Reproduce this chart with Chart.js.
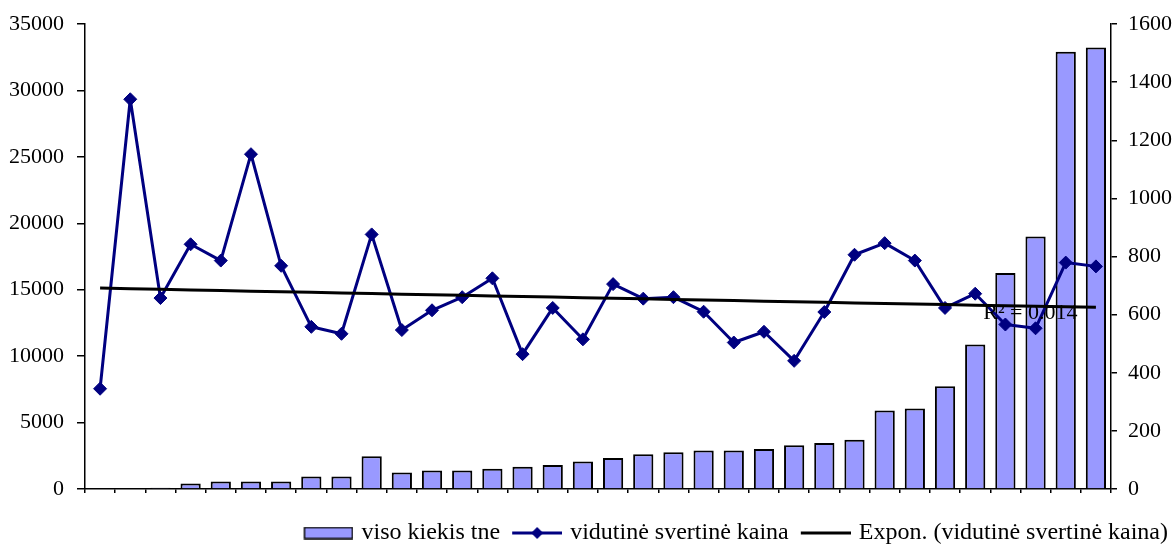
<!DOCTYPE html>
<html lang="lt">
<head>
  <meta charset="UTF-8">
  <title>viso kiekis tne / vidutinė svertinė kaina</title>
  <script src="https://cdn.jsdelivr.net/npm/chart.js"></script>
  <style>
    html, body { margin: 0; padding: 0; background: #fff; }
    #wrap { width: 1176px; height: 545px; position: relative; }
  </style>
</head>
<body>
  <div id="wrap"><canvas id="myChart"></canvas></div>

  <script>
    // 34 periods, no labels on the category axis
    const categories = Array.from({ length: 34 }, (_, i) => String(i + 1));
    const kiekis = [0, 0, 100, 420, 560, 560, 560, 950, 950, 2470,
                    1250, 1400, 1400, 1520, 1670, 1800, 2070, 2340, 2620, 2770,
                    2890, 2890, 3010, 3290, 3460, 3715, 5910, 6060, 7730, 10870,
                    16250, 19000, 32910, 33230];
    const kaina = [345, 1341, 657, 842, 786, 1152, 768, 558, 534, 876,
                   547, 615, 660, 725, 464, 623, 515, 705, 655, 660,
                   610, 504, 541, 441, 609, 806, 846, 786, 623, 672,
                   566, 553, 779, 766];
    const leftTicks = [0, 5000, 10000, 15000, 20000, 25000, 30000, 35000];
    const rightTicks = [0, 200, 400, 600, 800, 1000, 1200, 1400, 1600];
    const r2Text = 'R² = 0.014';

    // exponential trend (least squares on ln y), like the spreadsheet's "Expon." trendline
    const n = kaina.length;
    const xm = (n + 1) / 2;
    const lnY = kaina.map(v => Math.log(v));
    const lm = lnY.reduce((s, v) => s + v, 0) / n;
    let sxy = 0, sxx = 0;
    lnY.forEach((v, i) => { const d = (i + 1) - xm; sxy += d * (v - lm); sxx += d * d; });
    const b = sxy / sxx;
    const a = lm - b * xm;
    const trend = kaina.map((_, i) => Math.exp(a + b * (i + 1)));

    const FONT = "'Liberation Serif', 'Times New Roman', serif";

    // legend swatches: 58px canvas, the visible mark sits in pixels 8..58
    function swatch(h, draw) {
      const c = document.createElement('canvas');
      c.width = 58; c.height = h;
      const g = c.getContext('2d');
      g.translate(8, 0);
      draw(g);
      return c;
    }
    const barSwatch = swatch(13, g => {
      g.fillStyle = '#9999ff'; g.fillRect(1, 1, 48, 11);
      g.strokeStyle = '#000'; g.lineWidth = 1.5; g.strokeRect(1, 1, 48, 11);
    });
    const lineSwatch = swatch(14, g => {
      g.strokeStyle = '#000080'; g.lineWidth = 3;
      g.beginPath(); g.moveTo(0, 7); g.lineTo(50, 7); g.stroke();
      g.fillStyle = '#000080';
      g.beginPath(); g.moveTo(25, 1); g.lineTo(31, 7); g.lineTo(25, 13); g.lineTo(19, 7); g.closePath(); g.fill();
    });
    const trendSwatch = swatch(6, g => {
      g.strokeStyle = '#000'; g.lineWidth = 3;
      g.beginPath(); g.moveTo(0, 3); g.lineTo(50, 3); g.stroke();
    });

    const r2Label = {
      id: 'r2Label',
      afterDatasetsDraw(chart) {
        const { ctx, scales } = chart;
        ctx.save();
        ctx.font = '22px ' + FONT;
        ctx.fillStyle = '#000';
        ctx.textBaseline = 'alphabetic';
        ctx.fillText(r2Text, scales.x.getPixelForValue(29) + 8, scales.y1.getPixelForValue(585));
        ctx.restore();
      }
    };

    const ctx = document.getElementById('myChart').getContext('2d');
    new Chart(ctx, {
      data: {
        labels: categories,
        datasets: [
          {
            type: 'bar',
            label: 'viso kiekis tne',
            data: kiekis,
            yAxisID: 'y',
            backgroundColor: '#9999ff',
            borderColor: '#000',
            borderWidth: 2,
            categoryPercentage: 1,
            barPercentage: 0.67,
            order: 3
          },
          {
            type: 'line',
            label: 'vidutinė svertinė kaina',
            data: kaina,
            yAxisID: 'y1',
            borderColor: '#000080',
            backgroundColor: '#000080',
            borderWidth: 3,
            borderJoinStyle: 'round',
            pointStyle: 'rectRot',
            pointRadius: 6.5,
            pointBorderWidth: 1,
            tension: 0,
            order: 2
          },
          {
            type: 'line',
            label: 'Expon. (vidutinė svertinė kaina)',
            data: trend,
            yAxisID: 'y1',
            borderColor: '#000',
            borderWidth: 3,
            pointRadius: 0,
            tension: 0,
            order: 1
          }
        ]
      },
      options: {
        responsive: true,
        maintainAspectRatio: false,
        animation: false,
        layout: { padding: { top: 9, left: 0, right: 0, bottom: 0 } },
        plugins: {
          tooltip: { enabled: false },
          legend: {
            position: 'bottom',
            align: 'end',
            maxHeight: 32,
            labels: {
              usePointStyle: true,
              pointStyleWidth: 50,
              padding: 8,
              color: '#000',
              font: { family: FONT, size: 24 },
              generateLabels: () => [
                { text: 'viso kiekis tne', pointStyle: barSwatch, fontColor: '#000', datasetIndex: 0 },
                { text: 'vidutinė svertinė kaina', pointStyle: lineSwatch, fontColor: '#000', datasetIndex: 1 },
                { text: 'Expon. (vidutinė svertinė kaina)', pointStyle: trendSwatch, fontColor: '#000', datasetIndex: 2 }
              ]
            }
          }
        },
        scales: {
          x: {
            offset: true,
            grid: { display: true, offset: true, drawOnChartArea: false, drawTicks: true, tickLength: 4, color: '#000', lineWidth: 1.5 },
            border: { display: true, color: '#000', width: 1.5 },
            ticks: { display: false },
            afterFit: s => { s.height = 24; }
          },
          y: {
            position: 'left',
            min: 0,
            max: 35000,
            afterBuildTicks: s => { s.ticks = leftTicks.map(v => ({ value: v })); },
            grid: { drawOnChartArea: false, tickLength: 8, color: '#000', lineWidth: 1.5 },
            border: { display: true, color: '#000', width: 1.5 },
            ticks: { color: '#000', padding: 13, font: { family: FONT, size: 22, lineHeight: 1 }, callback: v => String(v) },
            afterFit: s => { s.width = 85; }
          },
          y1: {
            position: 'right',
            min: 0,
            max: 1600,
            afterBuildTicks: s => { s.ticks = rightTicks.map(v => ({ value: v })); },
            grid: { drawOnChartArea: false, tickLength: 6, color: '#000', lineWidth: 1.5 },
            border: { display: true, color: '#000', width: 1.5 },
            ticks: { color: '#000', padding: 11, font: { family: FONT, size: 22, lineHeight: 1 }, callback: v => String(v) },
            afterFit: s => { s.width = 65; }
          }
        }
      },
      plugins: [r2Label]
    });
  </script>
</body>
</html>
